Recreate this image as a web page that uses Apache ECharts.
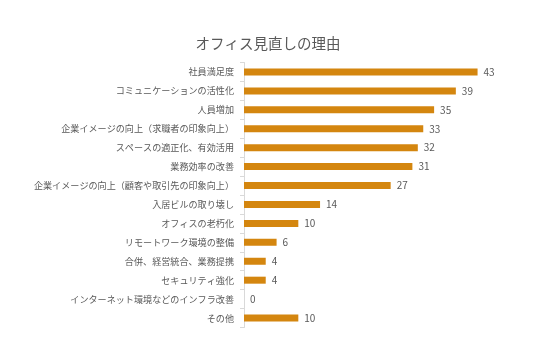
<!DOCTYPE html>
<html><head><meta charset="utf-8">
<script src="https://cdn.jsdelivr.net/npm/echarts@6/dist/echarts.min.js"></script>
<style>html,body{margin:0;padding:0;background:#fff}#c{width:536px;height:353px}</style>
</head><body><div id="c"></div>
<script>
const categories = ["社員満足度","コミュニケーションの活性化","人員増加","企業イメージの向上（求職者の印象向上）","スペースの適正化、有効活用","業務効率の改善","企業イメージの向上（顧客や取引先の印象向上）","入居ビルの取り壊し","オフィスの老朽化","リモートワーク環境の整備","合併、経営統合、業務提携","セキュリティ強化","インターネット環境などのインフラ改善","その他"];
const values = [43,39,35,33,32,31,27,14,10,6,4,4,0,10];
const title = "オフィス見直しの理由";
const font = '"Noto Sans CJK JP","Noto Sans",sans-serif';
const chart = echarts.init(document.getElementById('c'));
chart.setOption({
  animation:false,
  title:{text:title,left:'center',top:31,textStyle:{fontFamily:font,fontSize:14.5,fontWeight:'normal',color:'#595959'}},
  grid:{left:244,right:53,top:62.5,bottom:25.5,containLabel:false},
  xAxis:{type:'value',min:0,max:44,show:false},
  yAxis:{type:'category',data:categories,inverse:true,
    axisLine:{lineStyle:{color:'#d9d9d9'}},
    axisTick:{show:true,length:4,lineStyle:{color:'#d9d9d9'}},
    axisLabel:{fontFamily:font,fontSize:9.1,color:'#595959',margin:10}},
  series:[{type:'bar',data:values,barWidth:7,itemStyle:{color:'#D4860F'},
    label:{show:true,position:'right',distance:6,fontFamily:font,fontSize:10,color:'#595959'}}]
});
</script></body></html>
